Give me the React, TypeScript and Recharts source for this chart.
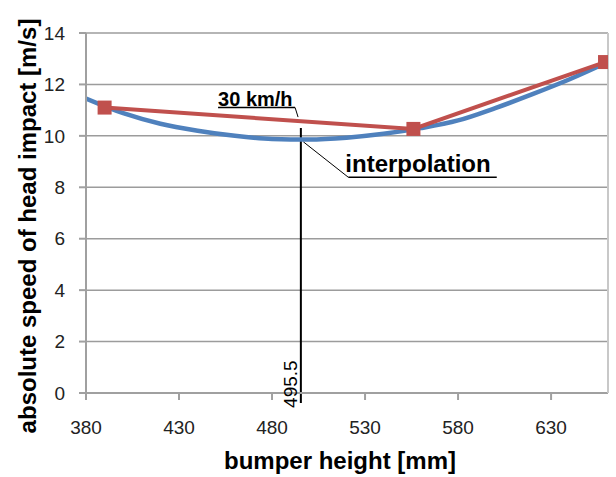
import React from 'react';
import {
  LineChart,
  Line,
  XAxis,
  YAxis,
  CartesianGrid,
  ReferenceLine,
  ReferenceDot,
} from 'recharts';

// ---- data ----
const xTicks = [380, 430, 480, 530, 580, 630];
const yTicks = [0, 2, 4, 6, 8, 10, 12, 14];
const rightTicks = [0, 1, 2, 3, 4, 5, 6];

const interpX = [380, 400, 420, 440, 460, 480, 500, 520, 540, 560, 580, 600, 620, 640, 660];
const interpY = [11.45, 10.88, 10.47, 10.2, 10.0, 9.88, 9.86, 9.93, 10.08, 10.3, 10.6, 11.08, 11.62, 12.2, 12.85];

const measX = [390, 556, 659];
const measY = [11.1, 10.27, 12.87];

const markerX = 495.5;
const markerLabel = '495.5';
const speedLabel = '30 km/h';
const interpLabel = 'interpolation';

// annotation anchors (data coordinates)
const markerLine = [
  { x: 495.5, y: 10.31 },
  { x: 495.5, y: -0.39 },
];
const speedUnderline = [
  { x: 451, y: 11.1 },
  { x: 492.4, y: 11.1 },
];
const speedLeader = [
  { x: 492.4, y: 11.1 },
  { x: 494.0, y: 10.73 },
];
const interpUnderline = [
  { x: 521, y: 8.39 },
  { x: 600.8, y: 8.39 },
];
const interpLeader = [
  { x: 496.8, y: 9.77 },
  { x: 521, y: 8.39 },
];
const speedTextPos = { x: 451, y: 11.18 };
const interpTextPos = { x: 519.4, y: 8.61 };
const markerTextPos = { x: 493.4, y: -0.58 };

const interpData = interpX.map((x, i) => ({ x, v: interpY[i] }));
const measData = measX.map((x, i) => ({ x, v: measY[i] }));

const FONT = '"Liberation Sans", Arial, sans-serif';
const BLUE = '#4F81BD';
const RED = '#C0504D';
const AXIS = '#a0a0a0';

const SquareDot = (props: any) => {
  const { cx, cy, index } = props;
  if (cx == null || cy == null) return null;
  return <rect key={`sq-${index}`} x={cx - 7} y={cy - 7} width={14} height={14} fill={RED} />;
};

export default function App() {
  return (
    <div style={{ position: 'absolute', left: 0, top: 0, width: 616, height: 477, background: '#fff' }}>
      <LineChart
        width={616}
        height={477}
        margin={{ top: 33, right: 0, bottom: 0, left: 0 }}
        style={{ fontFamily: FONT }}
      >
        <CartesianGrid horizontal vertical={false} stroke="#9c9c9c" strokeWidth={1.5} yAxisId="left" />
        <XAxis
          type="number"
          dataKey="x"
          domain={[380, 660.6]}
          ticks={xTicks}
          allowDataOverflow
          height={84}
          tickSize={7}
          tickMargin={21}
          tick={{ fontSize: 19, fill: '#222', fontFamily: FONT }}
          axisLine={{ stroke: AXIS, strokeWidth: 2 }}
          tickLine={{ stroke: AXIS, strokeWidth: 2 }}
          label={{
            content: (p: any) => {
              const vb = p.viewBox || { x: 86, y: 393, width: 522, height: 84 };
              return (
                <text
                  x={vb.x + vb.width / 2 - 7}
                  y={vb.y + 76}
                  textAnchor="middle"
                  fontSize={24}
                  fontWeight="bold"
                  fontFamily={FONT}
                  fill="#000"
                >
                  bumper height [mm]
                </text>
              );
            },
          }}
        />
        <YAxis
          yAxisId="left"
          type="number"
          domain={[0, 14]}
          ticks={yTicks}
          width={86}
          tickSize={7}
          tickMargin={14}
          tick={{ fontSize: 19, fill: '#222', fontFamily: FONT }}
          axisLine={{ stroke: AXIS, strokeWidth: 2 }}
          tickLine={{ stroke: AXIS, strokeWidth: 2 }}
          label={{
            content: (p: any) => {
              const vb = p.viewBox || { x: 0, y: 33, width: 86, height: 360 };
              const cx = vb.x + 27;
              const cy = vb.y + vb.height / 2 + 13;
              return (
                <text
                  x={cx}
                  y={cy}
                  transform={`rotate(-90 ${cx} ${cy})`}
                  textAnchor="middle"
                  dominantBaseline="central"
                  fontSize={24}
                  fontWeight="bold"
                  fontFamily={FONT}
                  fill="#000"
                >
                  absolute speed of head impact [m/s]
                </text>
              );
            },
          }}
        />
        <YAxis
          yAxisId="right"
          orientation="right"
          type="number"
          domain={[0, 6]}
          ticks={rightTicks}
          width={8}
          tickSize={4}
          tickFormatter={() => ''}
          axisLine={{ stroke: '#c8c8c8', strokeWidth: 2 }}
          tickLine={{ stroke: '#c8c8c8', strokeWidth: 1.5 }}
        />

        <ReferenceLine yAxisId="left" segment={markerLine} stroke="#000" strokeWidth={2} ifOverflow="visible" />
        <ReferenceLine yAxisId="left" segment={speedUnderline} stroke="#000" strokeWidth={1.5} ifOverflow="visible" />
        <ReferenceLine yAxisId="left" segment={speedLeader} stroke="#000" strokeWidth={1} ifOverflow="visible" />
        <ReferenceLine yAxisId="left" segment={interpUnderline} stroke="#000" strokeWidth={1.5} ifOverflow="visible" />
        <ReferenceLine yAxisId="left" segment={interpLeader} stroke="#000" strokeWidth={1} ifOverflow="visible" />

        <Line
          yAxisId="left"
          data={interpData}
          dataKey="v"
          type="monotone"
          stroke={BLUE}
          strokeWidth={4.5}
          dot={false}
          activeDot={false}
          isAnimationActive={false}
        />
        <Line
          yAxisId="left"
          data={measData}
          dataKey="v"
          type="linear"
          stroke={RED}
          strokeWidth={4}
          dot={SquareDot}
          activeDot={false}
          isAnimationActive={false}
        />

        <ReferenceDot
          yAxisId="left"
          x={speedTextPos.x}
          y={speedTextPos.y}
          ifOverflow="visible"
          shape={(p: any) => (
            <text x={p.cx} y={p.cy} fontSize={20} fontWeight="bold" fontFamily={FONT} fill="#000">
              {speedLabel}
            </text>
          )}
        />
        <ReferenceDot
          yAxisId="left"
          x={interpTextPos.x}
          y={interpTextPos.y}
          ifOverflow="visible"
          shape={(p: any) => (
            <text x={p.cx} y={p.cy} fontSize={24} fontWeight="bold" fontFamily={FONT} fill="#000">
              {interpLabel}
            </text>
          )}
        />
        <ReferenceDot
          yAxisId="left"
          x={markerTextPos.x}
          y={markerTextPos.y}
          ifOverflow="visible"
          shape={(p: any) => (
            <text
              x={p.cx}
              y={p.cy}
              transform={`rotate(-90 ${p.cx} ${p.cy})`}
              fontSize={19}
              fontFamily={FONT}
              fill="#000"
            >
              {markerLabel}
            </text>
          )}
        />
      </LineChart>
    </div>
  );
}
